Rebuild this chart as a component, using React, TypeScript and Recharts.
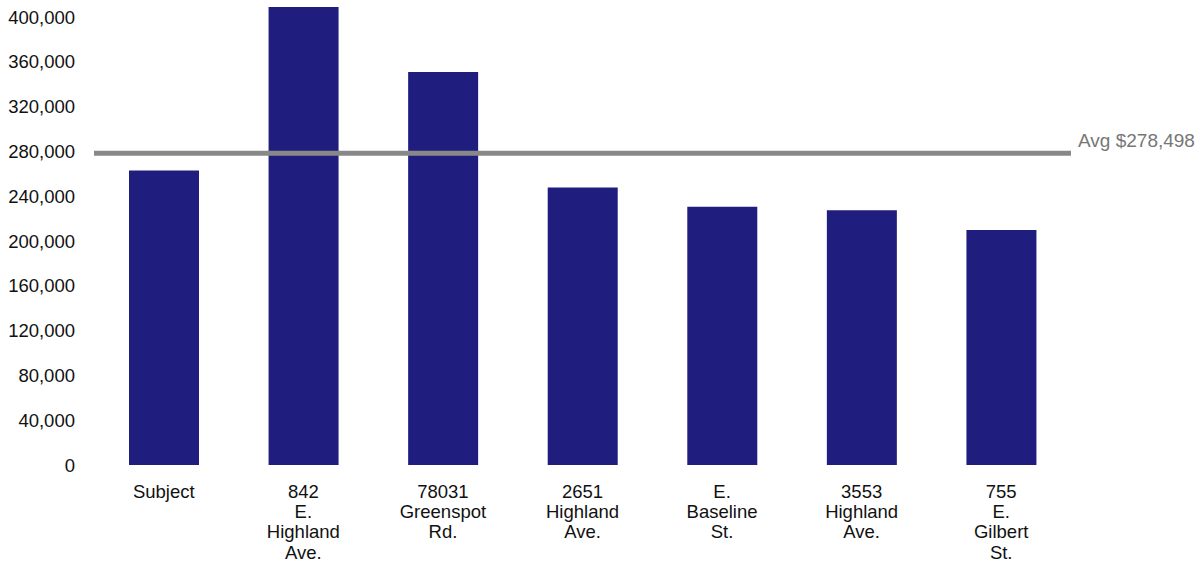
import { BarChart, Bar, XAxis, YAxis, ReferenceLine } from "recharts";

const categories = [
  "Subject",
  "842 E. Highland Ave.",
  "78031 Greenspot Rd.",
  "2651 Highland Ave.",
  "E. Baseline St.",
  "3553 Highland Ave.",
  "755 E. Gilbert St.",
];
const prices = [263100, 409000, 350900, 247900, 230600, 227400, 209800];
const yTicks = [0, 40000, 80000, 120000, 160000, 200000, 240000, 280000, 320000, 360000, 400000];
const avgPrice = 278498;

const chartData = categories.map((name, i) => ({ name, price: prices[i] }));

const FONT = "'Liberation Sans', Arial, sans-serif";

function CategoryTick({ x, y, payload }: any) {
  const words = String(payload.value).split(" ");
  return (
    <text x={x} y={y} textAnchor="middle" fontFamily={FONT} fontSize={18.5} fill="#111">
      {words.map((w, i) => (
        <tspan key={i} x={x} dy={i === 0 ? 33 : 20.2}>
          {w}
        </tspan>
      ))}
    </text>
  );
}

function AvgLabel(props: any) {
  const vb = props.viewBox;
  return (
    <text
      x={vb.x + vb.width + 7}
      y={vb.y - 6}
      fontFamily={FONT}
      fontSize={19}
      fill="#777"
      textAnchor="start"
    >
      Avg ${avgPrice.toLocaleString("en-US")}
    </text>
  );
}

export default function App() {
  return (
    <div style={{ position: "absolute", left: 0, top: 0, background: "#fff" }}>
      <BarChart
        width={1203}
        height={562}
        data={chartData}
        margin={{ top: 7, right: 132, bottom: 0, left: 0 }}
      >
        <XAxis
          dataKey="name"
          axisLine={false}
          tickLine={false}
          tickSize={0}
          tickMargin={0}
          height={97}
          interval={0}
          tick={<CategoryTick />}
        />
        <YAxis
          width={94}
          domain={[0, 409000]}
          ticks={yTicks}
          interval={0}
          axisLine={false}
          tickLine={false}
          tickSize={0}
          tickMargin={19}
          tickFormatter={(v: number) => v.toLocaleString("en-US")}
          tick={{ fontFamily: FONT, fontSize: 18.5, fill: "#111" }}
        />
        <Bar dataKey="price" fill="#1F1D7E" barSize={70} isAnimationActive={false} />
        <ReferenceLine
          y={avgPrice}
          stroke="#888888"
          strokeWidth={5}
          label={<AvgLabel />}
          ifOverflow="visible"
        />
      </BarChart>
    </div>
  );
}
